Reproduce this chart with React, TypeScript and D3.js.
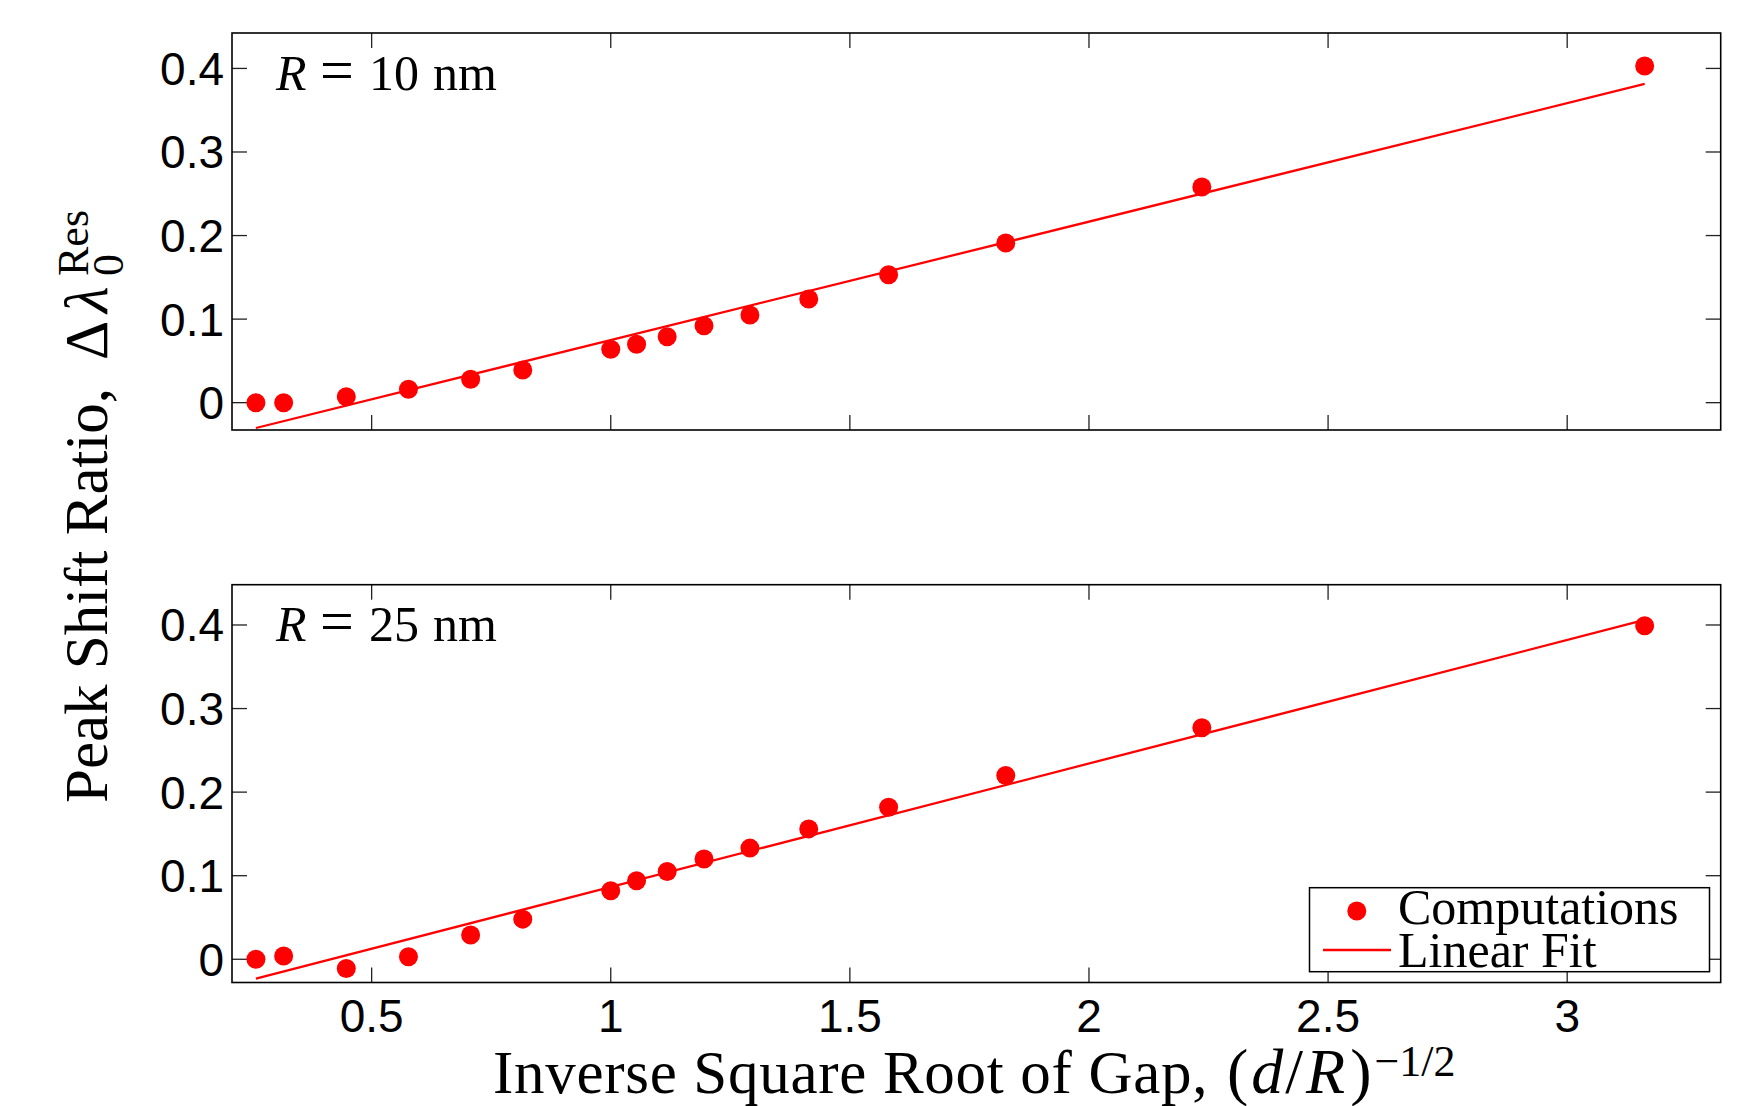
import React from "react";
import * as d3 from "d3";

// ---- data ----
const gapX = [0.258, 0.316, 0.447, 0.577, 0.707, 0.816, 1.0, 1.054, 1.118, 1.195, 1.291, 1.414, 1.581, 1.826, 2.236, 3.162];
const shiftR10 = [0.0, 0.0, 0.007, 0.016, 0.028, 0.039, 0.064, 0.07, 0.079, 0.092, 0.105, 0.124, 0.153, 0.191, 0.258, 0.403];
const shiftR25 = [0.0, 0.004, -0.011, 0.003, 0.029, 0.048, 0.082, 0.094, 0.105, 0.12, 0.133, 0.156, 0.182, 0.22, 0.277, 0.399];
const fitX = [0.258, 3.162];
const fitR10 = [-0.0303, 0.3814];
const fitR25 = [-0.0232, 0.406];
const xTicks = [0.5, 1, 1.5, 2, 2.5, 3];
const yTicks = [0, 0.1, 0.2, 0.3, 0.4];
const radii = ["10", "25"];
const legendLabels = ["Computations", "Linear Fit"];

const W = 1757;
const H = 1106;
const LEFT = 232;
const RIGHT = 1720.7;
const RED = "#ff0000";
const SERIF = "'Liberation Serif', 'Times New Roman', serif";
const SANS = "'Liberation Sans', Arial, Helvetica, sans-serif";
const TICK = 15;

const x = d3.scaleLinear().domain([0.208, 3.321]).range([LEFT, RIGHT]);

const panels = [
  { top: 33, bottom: 430, yDomain: [-0.0327, 0.4424], values: shiftR10, fit: fitR10, radius: radii[0], legend: false },
  { top: 584.7, bottom: 982.5, yDomain: [-0.0278, 0.4482], values: shiftR25, fit: fitR25, radius: radii[1], legend: true },
];

function Panel({ p }: { p: (typeof panels)[number] }) {
  const y = d3.scaleLinear().domain(p.yDomain).range([p.bottom, p.top]);
  const pts = gapX.map((gx, i) => [gx, p.values[i]] as [number, number]);
  const fitPts = fitX.map((fx, i) => [fx, p.fit[i]] as [number, number]);
  const line = d3
    .line<[number, number]>()
    .x((d) => x(d[0]))
    .y((d) => y(d[1]));
  const fmt = (v: number) => String(v);
  return (
    <g>
      {xTicks.map((t) => (
        <g key={"xt" + t}>
          <line x1={x(t)} x2={x(t)} y1={p.bottom} y2={p.bottom - TICK} stroke="#222" strokeWidth={1.3} />
          <line x1={x(t)} x2={x(t)} y1={p.top} y2={p.top + TICK} stroke="#222" strokeWidth={1.3} />
        </g>
      ))}
      {yTicks.map((t) => (
        <g key={"yt" + t}>
          <line x1={LEFT} x2={LEFT + TICK} y1={y(t)} y2={y(t)} stroke="#222" strokeWidth={1.3} />
          <line x1={RIGHT} x2={RIGHT - TICK} y1={y(t)} y2={y(t)} stroke="#222" strokeWidth={1.3} />
          <text x={LEFT - 8} y={y(t) + 16.5} textAnchor="end" fontFamily={SANS} fontSize={46} fill="#000">
            {fmt(t)}
          </text>
        </g>
      ))}
      <path d={line(fitPts) || ""} fill="none" stroke={RED} strokeWidth={2.3} />
      {pts.map((d, i) => (
        <circle key={i} cx={x(d[0])} cy={y(d[1])} r={9.5} fill={RED} />
      ))}
      <rect x={LEFT} y={p.top} width={RIGHT - LEFT} height={p.bottom - p.top} fill="none" stroke="#000" strokeWidth={1.6} />
      <text y={p.top + 56.5} fontFamily={SERIF} fontSize={50} fill="#000">
        <tspan x={276} fontStyle="italic">R</tspan>
        <tspan x={320} fontSize={60}>=</tspan>
        <tspan x={369}>{p.radius}</tspan>
        <tspan x={433}>nm</tspan>
      </text>
      {p.legend && (
        <g>
          <rect x={1309.5} y={887.7} width={400} height={84} fill="#fff" stroke="#000" strokeWidth={1.5} />
          <circle cx={1356.8} cy={911} r={9.5} fill={RED} />
          <line x1={1323} x2={1391} y1={950} y2={950} stroke={RED} strokeWidth={2.3} />
          <text x={1398} y={923.5} fontFamily={SERIF} fontSize={50} fill="#000">
            {legendLabels[0]}
          </text>
          <text x={1398} y={967} fontFamily={SERIF} fontSize={50} fill="#000">
            {legendLabels[1]}
          </text>
        </g>
      )}
    </g>
  );
}

export default function App() {
  return (
    <svg
      width={W}
      height={H}
      viewBox={`0 0 ${W} ${H}`}
      style={{ position: "absolute", left: 0, top: 0, background: "#fff" }}
    >
      <rect x={0} y={0} width={W} height={H} fill="#fff" />
      {panels.map((p, i) => (
        <Panel key={i} p={p} />
      ))}
      {xTicks.map((t) => (
        <text key={"xl" + t} x={x(t)} y={1032} textAnchor="middle" fontFamily={SANS} fontSize={46} fill="#000">
          {String(t)}
        </text>
      ))}
      {/* x axis label */}
      <text y={1093} fontFamily={SERIF} fontSize={61} fill="#000">
        <tspan x={493} letterSpacing={0.7}>Inverse Square Root of Gap,</tspan>
        <tspan x={1227} fontSize={64}>(</tspan>
        <tspan dx={3} fontSize={64} fontStyle="italic">d</tspan>
        <tspan dx={2} fontSize={64}>/</tspan>
        <tspan dx={3} fontSize={64} fontStyle="italic">R</tspan>
        <tspan dx={5} fontSize={64}>)</tspan>
        <tspan dx={3} dy={-17} fontSize={44}>−1/2</tspan>
      </text>
      {/* y axis label */}
      <g transform="translate(107, 803) rotate(-90)">
        <text x={0} y={0} fontFamily={SERIF} fontSize={61} fill="#000">
          <tspan x={0}>Peak Shift Ratio,</tspan>
          <tspan x={443}>Δ</tspan>
          <tspan x={490} fontStyle="italic">λ</tspan>
          <tspan x={527} dy={15.5} fontSize={44}>0</tspan>
          <tspan x={527} dy={-34.5} fontSize={44}>Res</tspan>
        </text>
      </g>
    </svg>
  );
}
